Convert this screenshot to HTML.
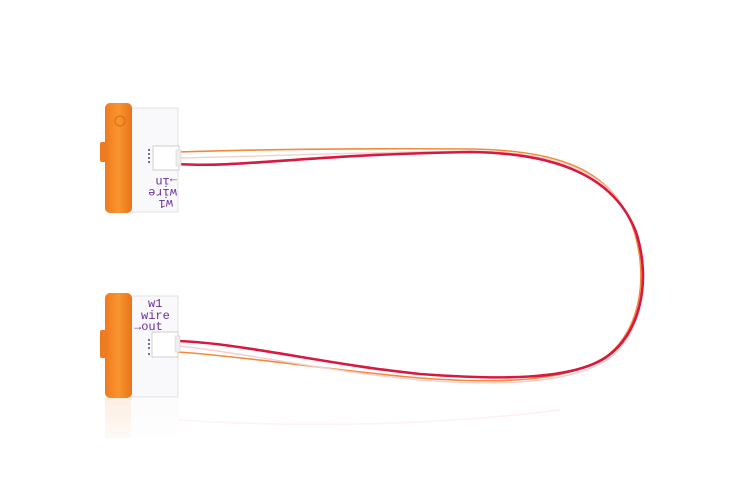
<!DOCTYPE html>
<html><head><meta charset="utf-8"><style>
html,body{margin:0;padding:0;background:#fff;width:756px;height:504px;overflow:hidden}
svg{display:block}
</style></head><body>
<svg width="756" height="504" viewBox="0 0 756 504" xmlns="http://www.w3.org/2000/svg">
<defs>
<linearGradient id="og" x1="0" x2="1"><stop offset="0" stop-color="#f07a1e"/><stop offset="0.5" stop-color="#f8952f"/><stop offset="1" stop-color="#e9731a"/></linearGradient>
<linearGradient id="fade" x1="0" y1="0" x2="0" y2="1"><stop offset="0" stop-color="#fff" stop-opacity="0.3"/><stop offset="1" stop-color="#fff" stop-opacity="1"/></linearGradient>
</defs>
<g fill="none" stroke-linecap="round">
<path d="M178,152 C240,150 330,148 470,149 C560,150 610,170 632,225 C650,275 640,330 608,355 C570,382 500,384 420,378 C330,370 240,356 178,352" stroke="#f28a3a" stroke-width="1.6"/>
<path d="M178,158 C240,157 330,153 470,151 C560,152 612,172 634,228 C652,278 642,332 610,358 C572,384 500,386 420,380 C330,372 240,352 178,346" stroke="#f2d0d0" stroke-width="1.4"/>
<path d="M178,164 C240,168 300,155 470,152 C560,153 615,178 636,232 C652,282 640,335 605,358 C570,380 500,380 420,374 C330,365 240,343 178,341" stroke="#d8193f" stroke-width="2.6"/>
</g>
<rect x="131" y="108" width="47" height="104" fill="#f9f8fa" stroke="#e4e0e4" stroke-width="1"/>
<rect x="105" y="103" width="27" height="110" rx="5" fill="url(#og)"/>
<rect x="100" y="142" width="7" height="20" rx="2" fill="#ee7a22"/>
<circle cx="120" cy="121" r="5" fill="none" stroke="#e06a10" stroke-width="1"/>
<rect x="153" y="146" width="26" height="24" fill="#ffffff" stroke="#cfcfcf"/>
<rect x="176" y="150" width="5" height="16" fill="#eee" stroke="#ccc" stroke-width="0.5"/>
<g fill="#5a3a7a"><circle cx="149" cy="150" r="1"/><circle cx="149" cy="154" r="1"/><circle cx="149" cy="158" r="1"/><circle cx="149" cy="162" r="1"/></g>
<g font-family="Liberation Mono, monospace" font-size="12" fill="#6a2f9a" transform="rotate(180 155 195)">
<text x="137" y="190">w1</text><text x="133" y="201">wire</text><text x="133" y="212">→in</text>
</g>
<rect x="131" y="296" width="47" height="101" fill="#f9f8fa" stroke="#e4e0e4" stroke-width="1"/>
<rect x="105" y="293" width="27" height="105" rx="5" fill="url(#og)"/>
<rect x="100" y="330" width="7" height="28" rx="2" fill="#ee7a22"/>
<rect x="152" y="332" width="26" height="25" fill="#ffffff" stroke="#cfcfcf"/>
<rect x="175" y="336" width="5" height="16" fill="#eee" stroke="#ccc" stroke-width="0.5"/>
<g fill="#5a3a7a"><circle cx="149" cy="340" r="1"/><circle cx="149" cy="344" r="1"/><circle cx="149" cy="348" r="1"/><circle cx="149" cy="354" r="1"/></g>
<g font-family="Liberation Mono, monospace" font-size="12" fill="#6a2f9a">
<text x="148" y="307">w1</text><text x="141" y="319">wire</text><text x="134" y="330">→out</text>
</g>
<g opacity="0.25">
<rect x="105" y="398" width="27" height="40" fill="#f8a060"/>
<rect x="131" y="398" width="47" height="40" fill="#eee"/>
<path d="M178,420 C260,425 400,430 560,410" fill="none" stroke="#e88" stroke-width="1.5"/>
</g>
<rect x="95" y="398" width="600" height="60" fill="url(#fade)"/>
</svg>
</body></html>
